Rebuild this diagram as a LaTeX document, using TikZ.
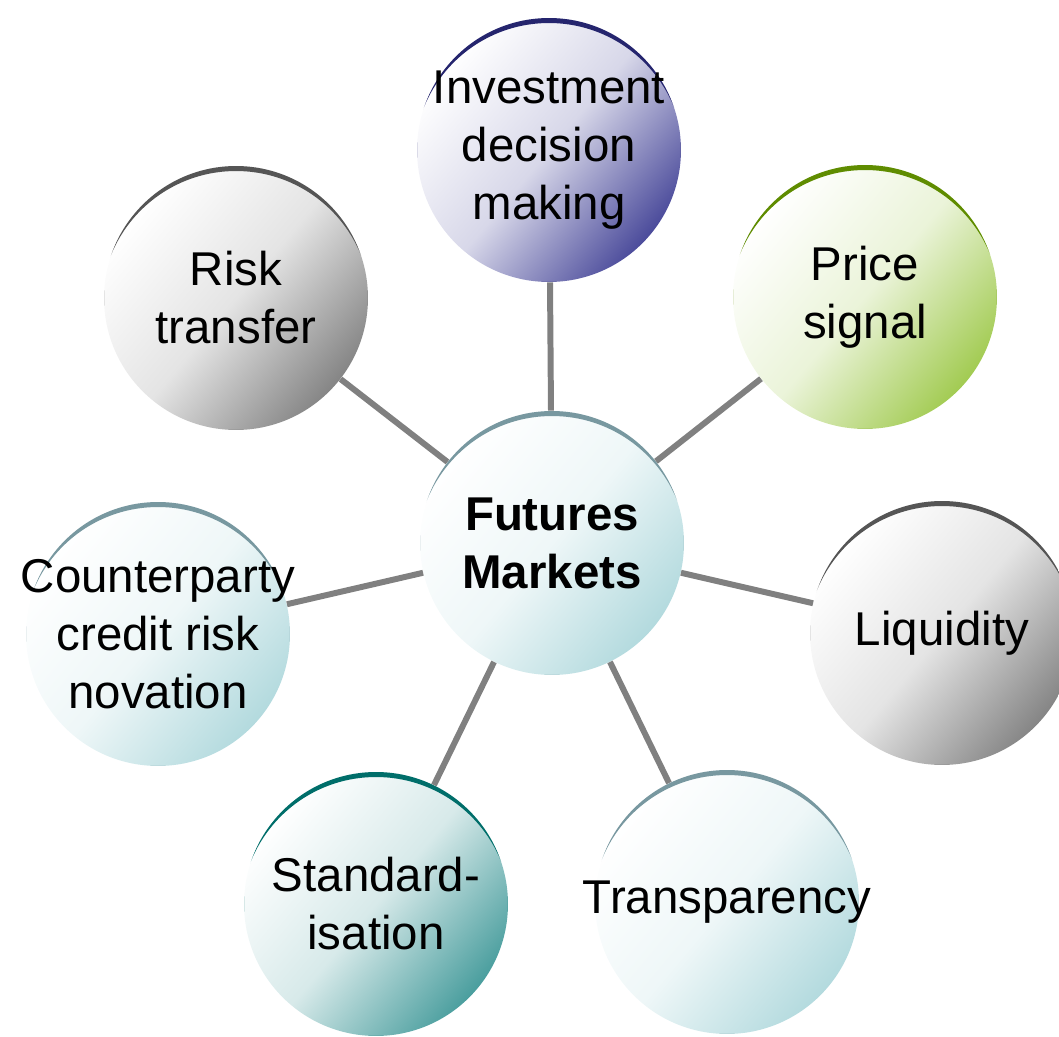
\documentclass[tikz,border=0pt]{standalone}
\usepackage{fontspec}
\setmainfont{Liberation Sans}
\definecolor{linkgray}{HTML}{808080}
\definecolor{navyfill}{HTML}{4B4B9B}
\definecolor{navyarc}{HTML}{25256E}
\definecolor{greyfill}{HTML}{858585}
\definecolor{greyarc}{HTML}{555555}
\definecolor{greenfill}{HTML}{A2CB52}
\definecolor{greenarc}{HTML}{5F8C00}
\definecolor{icefill}{HTML}{B3DADE}
\definecolor{icearc}{HTML}{7898A0}
\definecolor{tealfill}{HTML}{4A9E9E}
\definecolor{tealarc}{HTML}{006E6A}

\begin{document}
\begin{tikzpicture}[x=0.02cm, y=-0.02cm,
  bubble/.style 2 args={circle, minimum size=5.28cm, inner sep=-2.5cm, align=center,
    font=\fontsize{27}{33}\selectfont,
    top color=white, bottom color=#1, middle color=#1!22!white, shading angle=50,
    path picture={\fill[#2, even odd rule]
      (path picture bounding box.south west) rectangle (path picture bounding box.north east)
      ([yshift=-0.158cm]path picture bounding box.center) circle (2.698cm);}},
  link/.style={draw=linkgray, line width=3.4pt}]
  \useasboundingbox (0,0) rectangle (1059,1037);

  \node[bubble={icefill}{icearc}, font=\fontsize{27}{33}\selectfont\bfseries] (0) at (552, 543) {Futures\\Markets};
  \node[bubble={navyfill}{navyarc}] (1) at (549, 150) {Investment\\decision\\making};
  \node[bubble={greenfill}{greenarc}] (2) at (865, 297) {Price\\signal};
  \node[bubble={greyfill}{greyarc}] (3) at (942, 633) {Liquidity};
  \node[bubble={icefill}{icearc}] (4) at (727, 902) {Transparency};
  \node[bubble={tealfill}{tealarc}] (5) at (376, 904) {Standard-\\isation};
  \node[bubble={icefill}{icearc}] (6) at (158, 634) {Counterparty\\credit risk\\novation};
  \node[bubble={greyfill}{greyarc}] (7) at (236, 298) {Risk\\transfer};

  \draw[link]
  (0) edge (1)
  (0) edge (2)
  (0) edge (3)
  (0) edge (4)
  (0) edge (5)
  (0) edge (6)
  (0) edge (7);
\end{tikzpicture}
\end{document}
